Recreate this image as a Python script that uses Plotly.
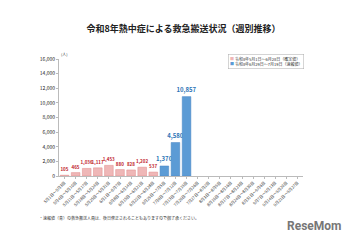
import plotly.graph_objects as go

weeks = ["5月1日～5月3日", "5月4日～5月10日", "5月11日～5月17日", "5月18日～5月24日",
         "5月25日～5月31日", "6月1日～6月7日", "6月8日～6月14日", "6月15日～6月21日",
         "6月22日～6月28日", "6月29日～7月5日", "7月6日～7月12日", "7月13日～7月19日",
         "7月20日～7月26日", "7月27日～8月2日", "8月3日～8月9日", "8月10日～8月16日",
         "8月17日～8月23日", "8月24日～8月30日", "8月31日～9月6日", "9月7日～9月13日",
         "9月14日～9月20日", "9月21日～9月27日"]
confirmed_values = [105, 465, 1036, 1117, 1453, 880, 828, 1202, 537]
prelim_values = [1370, 4580, 10857]
confirmed_name = "令和8年5月1日～6月28日（確定値）"
prelim_name = "令和8年6月29日～7月19日（速報値）"
y_ticks = [0, 2000, 4000, 6000, 8000, 10000, 12000, 14000, 16000]

font = "Noto Sans CJK JP"
red_fill, red_text = "#efb7b7", "#c0202a"
blue_fill, blue_text = "#5b9bd5", "#2e75b6"

fig = go.Figure()
fig.add_trace(go.Bar(
    x=weeks[:len(confirmed_values)], y=confirmed_values, name=confirmed_name,
    marker=dict(color=red_fill, line=dict(color="#e08a8a", width=0.5)),
    text=[f"<b>{v:,}</b>" for v in confirmed_values], textposition="outside", cliponaxis=False,
    constraintext="none",
    textfont=dict(color=red_text, size=4.5, family=font), width=0.78))
fig.add_trace(go.Bar(
    x=weeks[len(confirmed_values):len(confirmed_values) + len(prelim_values)], y=prelim_values,
    name=prelim_name,
    marker=dict(color=blue_fill, line=dict(color="#4a86c5", width=0.5)),
    text=[f"<b>{v:,}</b>" for v in prelim_values], textposition="outside", cliponaxis=False,
    constraintext="none",
    textfont=dict(color=blue_text, size=6, family=font), width=0.78))

fig.update_layout(
    width=360, height=240, barmode="overlay",
    margin=dict(l=59, r=57, t=59, b=64),
    paper_bgcolor="white", plot_bgcolor="white",
    font=dict(family=font, color="#333"),
    title=dict(text="<b>令和8年熱中症による救急搬送状況（週別推移）</b>", x=0.51, xanchor="center",
               y=0.88, yanchor="middle", font=dict(size=9, color="#222", family=font)),
    showlegend=False,
    xaxis=dict(categoryorder="array", categoryarray=weeks, range=[-0.5, len(weeks) - 0.5],
               tickangle=-45, tickfont=dict(size=4, color="#333", family=font),
               showline=True, linecolor="#bbb", linewidth=0.8, ticks="outside",
               ticklen=2, tickcolor="#bbb", showgrid=False),
    yaxis=dict(range=[0, 16000], tickvals=y_ticks, tickformat=",",
               tickfont=dict(size=5, color="#222", family=font), showline=True,
               linecolor="#bbb", linewidth=0.8, ticks="outside", ticklen=2,
               tickcolor="#bbb", showgrid=False, zeroline=False),
)
legend_text = (f"<span style='color:{red_fill}'>■</span> {confirmed_name}<br>"
               f"<span style='color:{blue_fill}'>■</span> {prelim_name}")
fig.add_annotation(text=legend_text, xref="paper", yref="paper", x=0.692, y=1.04,
                   xanchor="left", yanchor="top", align="left", showarrow=False,
                   bordercolor="#aaa", borderwidth=0.5, borderpad=1.5, bgcolor="white",
                   font=dict(size=4, color="#333", family=font))
fig.add_annotation(text="(人)", xref="paper", yref="paper", x=0.0, y=1.0, xanchor="left",
                   yanchor="bottom", showarrow=False, font=dict(size=4, color="#333", family=font))
fig.add_annotation(text="・速報値（青）の救急搬送人員は、後日修正されることもありますので御了承ください。",
                   xref="paper", yref="paper", x=-0.09, y=-0.355, xanchor="left", yanchor="middle",
                   showarrow=False, font=dict(size=4, color="#333", family=font))
fig.add_annotation(text="<b>ReseMom</b>", xref="paper", yref="paper", x=1.17, y=-0.43,
                   xanchor="right", yanchor="middle", showarrow=False,
                   font=dict(size=12, color="#777", family="Roboto"))
fig.write_html("out.html")
